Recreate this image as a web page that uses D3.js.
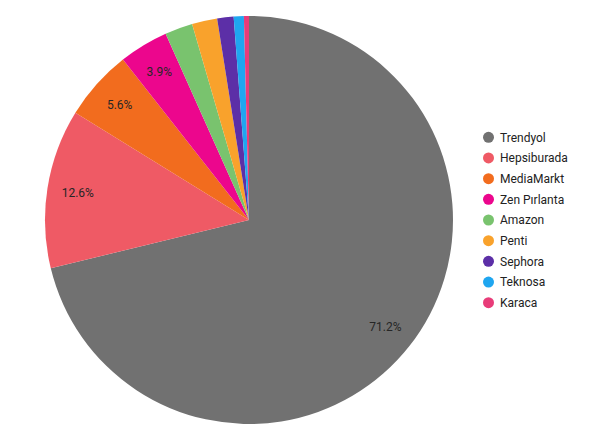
<!DOCTYPE html>
<html><head><meta charset="utf-8">
<script src="https://cdn.jsdelivr.net/npm/d3@7/dist/d3.min.js"></script>
<style>body{margin:0;background:#fff}svg{display:block}</style>
</head><body><svg id="c" width="600" height="434"></svg>
<script>
const categories = ["Trendyol","Hepsiburada","MediaMarkt","Zen Pırlanta","Amazon","Penti","Sephora","Teknosa","Karaca"];
const values = [71.2, 12.6, 5.6, 3.9, 2.2, 2.0, 1.3, 0.8, 0.4];
const colors = ["#717171","#ef5a65","#f26c1e","#ec068d","#79c36e","#f9a22c","#5c2fa7","#1fa6f0","#e83c79"];
const labelMin = 3;

const svg = d3.select("#c");
const cx = 249, cy = 220, r = 204;
const data = categories.map((c,i)=>({name:c, value:values[i], color:colors[i]}));
const pie = d3.pie().value(d=>d.value).sort(null);
const arcs = pie(data);
const arc = d3.arc().innerRadius(0).outerRadius(r);
const labelArc = d3.arc().innerRadius(r*0.85).outerRadius(r*0.85);
const g = svg.append("g").attr("transform",`translate(${cx},${cy})`);
g.selectAll("path").data(arcs).join("path")
  .attr("d",arc).attr("fill",d=>d.data.color);
g.selectAll("text").data(arcs.filter(d=>d.data.value>labelMin)).join("text")
  .attr("transform",d=>`translate(${labelArc.centroid(d)})`)
  .attr("text-anchor","middle").attr("dy","0.35em")
  .attr("font-family","Roboto, sans-serif").attr("font-size",12)
  .attr("fill","#262626")
  .text(d=>d.data.value.toFixed(1)+"%");

const scaleY = d3.scalePoint().domain(categories).range([137.3, 302.7]);
const lg = svg.append("g");
const rows = lg.selectAll("g").data(data).join("g")
  .attr("transform",d=>`translate(488.5,${scaleY(d.name)})`);
rows.append("circle").attr("r",5.5).attr("fill",d=>d.color);
rows.append("text").attr("x",11.5).attr("dy","0.35em")
  .attr("font-family","Roboto, sans-serif").attr("font-size",12)
  .attr("fill","#222").text(d=>d.name);
</script></body></html>
